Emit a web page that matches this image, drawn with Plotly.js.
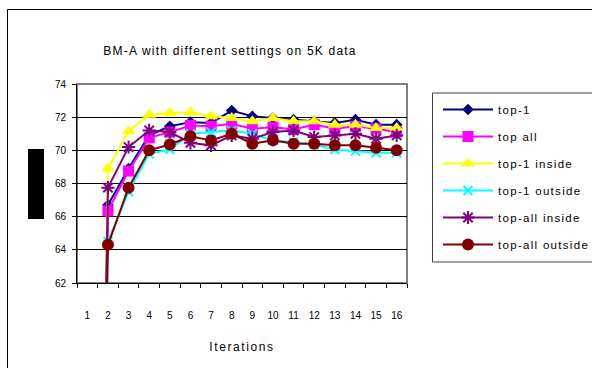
<!DOCTYPE html>
<html>
<head>
<meta charset="utf-8">
<script src="https://cdn.plot.ly/plotly-3.0.1.min.js"></script>
<style>
  html, body { margin: 0; padding: 0; background: #ffffff; }
  #chart { width: 592px; height: 368px; }
  .gtitle { letter-spacing: 1.2px; }
  .legendtext { letter-spacing: 1.3px; }
  .xtitle { letter-spacing: 1.6px; }
</style>
</head>
<body>
<div id="chart"></div>
<script>
// ---- data ----
const iterations = ["1","2","3","4","5","6","7","8","9","10","11","12","13","14","15","16"];
const seriesNames = ["top-1", "top all", "top-1 inside", "top-1 outside", "top-all inside", "top-all outside"];
const top1         = [0, 66.7, 68.9, 70.9, 71.45, 71.7, 71.65, 72.4, 72.05, 71.95, 71.85, 71.75, 71.65, 71.85, 71.55, 71.55];
const topAll       = [0, 66.35, 68.75, 70.75, 71.1, 71.5, 71.45, 71.6, 71.3, 71.4, 71.25, 71.55, 71.3, 71.45, 71.3, 71.1];
const top1Inside   = [0, 68.9, 71.15, 72.15, 72.25, 72.3, 72.05, 71.95, 71.75, 71.95, 71.75, 71.75, 71.55, 71.55, 71.35, 71.35];
const top1Outside  = [0, 64.5, 67.5, 69.8, 70.05, 71.0, 71.1, 71.2, 71.0, 70.6, 70.5, 70.35, 70.05, 69.95, 69.85, 69.85];
const topAllInside = [0, 67.75, 70.2, 71.2, 71.1, 70.45, 70.3, 70.9, 70.7, 71.1, 71.2, 70.8, 70.9, 71.0, 70.7, 70.9];
const topAllOutside= [0, 64.3, 67.75, 70.0, 70.35, 70.85, 70.6, 71.0, 70.4, 70.6, 70.4, 70.4, 70.3, 70.3, 70.15, 70.0];
const yTicks = [62, 64, 66, 68, 70, 72, 74];

const allValues = [top1, topAll, top1Inside, top1Outside, topAllInside, topAllOutside];
const styles = [
  {color: "#000080", symbol: "diamond", size: 9},
  {color: "#FF00FF", symbol: "square", size: 11},
  {color: "#FFFF00", symbol: "triangle-up", size: 12},
  {color: "#00FFFF", symbol: "x-thin-open", size: 9, lw: 2},
  {color: "#800080", symbol: "asterisk-open", size: 11, lw: 2},
  {color: "#800000", symbol: "circle", size: 12}
];

const FONT = "Liberation Sans, Arial, sans-serif";

const traces = allValues.map((vals, i) => {
  const s = styles[i];
  return {
    type: "scatter",
    mode: "lines+markers",
    x: iterations,
    y: vals,
    name: seriesNames[i],
    legendgroup: "g" + i,
    cliponaxis: true,
    line: {color: s.color, width: 2},
    marker: {
      color: s.color,
      symbol: s.symbol,
      size: s.size,
      line: {color: s.color, width: s.lw || 0}
    }
  };
});

const L = 77, R = 407, T = 84, B = 283, W = 592, H = 368;
const px2x = p => (p - L) / (R - L);
const px2y = p => (B - p) / (B - T);

const layout = {
  width: W, height: H,
  margin: {l: L, r: W - R, t: T, b: H - B, pad: 0, autoexpand: false},
  paper_bgcolor: "rgba(0,0,0,0)",
  plot_bgcolor: "#ffffff",
  font: {family: FONT, size: 10, color: "#000000"},
  showlegend: true,
  title: {
    text: "BM-A with different settings on 5K data",
    font: {family: FONT, size: 12, color: "#000000"},
    x: 230 / W, xanchor: "center", xref: "container",
    y: 1 - 51 / H, yanchor: "middle", yref: "container"
  },
  xaxis: {
    type: "category",
    range: [-0.5, iterations.length - 0.5],
    tickson: "boundaries",
    tickangle: 0,
    ticks: "outside", ticklen: 4, tickcolor: "#000000", tickwidth: 1,
    showline: true, linecolor: "#000000", linewidth: 1,
    showgrid: false, zeroline: false,
    tickfont: {family: FONT, size: 10, color: "#000000"},
    ticklabelstandoff: 23,
    title: {text: "Iterations", font: {family: FONT, size: 12, color: "#000000"}, standoff: 22},
    fixedrange: true
  },
  yaxis: {
    range: [62, 74],
    tickvals: yTicks,
    ticktext: yTicks.map(String),
    ticks: "outside", ticklen: 4, tickcolor: "#000000", tickwidth: 1,
    showline: true, linecolor: "#000000", linewidth: 1,
    showgrid: true, gridcolor: "#000000", gridwidth: 1,
    zeroline: false,
    tickfont: {family: FONT, size: 10, color: "#000000"},
    ticklabelstandoff: 4,
    fixedrange: true
  },
  legend: {
    x: px2x(438), xanchor: "left",
    y: px2y(95), yanchor: "top",
    bgcolor: "rgba(0,0,0,0)",
    borderwidth: 0,
    font: {family: FONT, size: 11.5, color: "#000000"},
    tracegroupgap: 8,
    itemwidth: 50,
    traceorder: "grouped"
  },
  shapes: [
    // chart area border
    {type: "rect", xref: "paper", yref: "paper", layer: "below",
     x0: px2x(7.5), x1: px2x(620), y0: px2y(400), y1: px2y(9.5),
     line: {color: "#000000", width: 1}, fillcolor: "rgba(0,0,0,0)"},
    // plot area frame
    {type: "rect", xref: "paper", yref: "paper", layer: "below",
     x0: 0, x1: 1, y0: 0, y1: 1,
     line: {color: "#808080", width: 2}, fillcolor: "rgba(0,0,0,0)"},
    // legend box
    {type: "rect", xref: "paper", yref: "paper", layer: "below",
     x0: px2x(432.5), x1: px2x(620), y0: px2y(262), y1: px2y(93),
     line: {color: "#404040", width: 1}, fillcolor: "#ffffff"},
    // black block at left (masked axis title)
    {type: "rect", xref: "paper", yref: "paper", layer: "above",
     x0: px2x(28), x1: px2x(44), y0: px2y(219), y1: px2y(149),
     line: {width: 0}, fillcolor: "#000000"}
  ]
};

Plotly.newPlot("chart", traces, layout, {displayModeBar: false, staticPlot: true});
</script>
</body>
</html>
